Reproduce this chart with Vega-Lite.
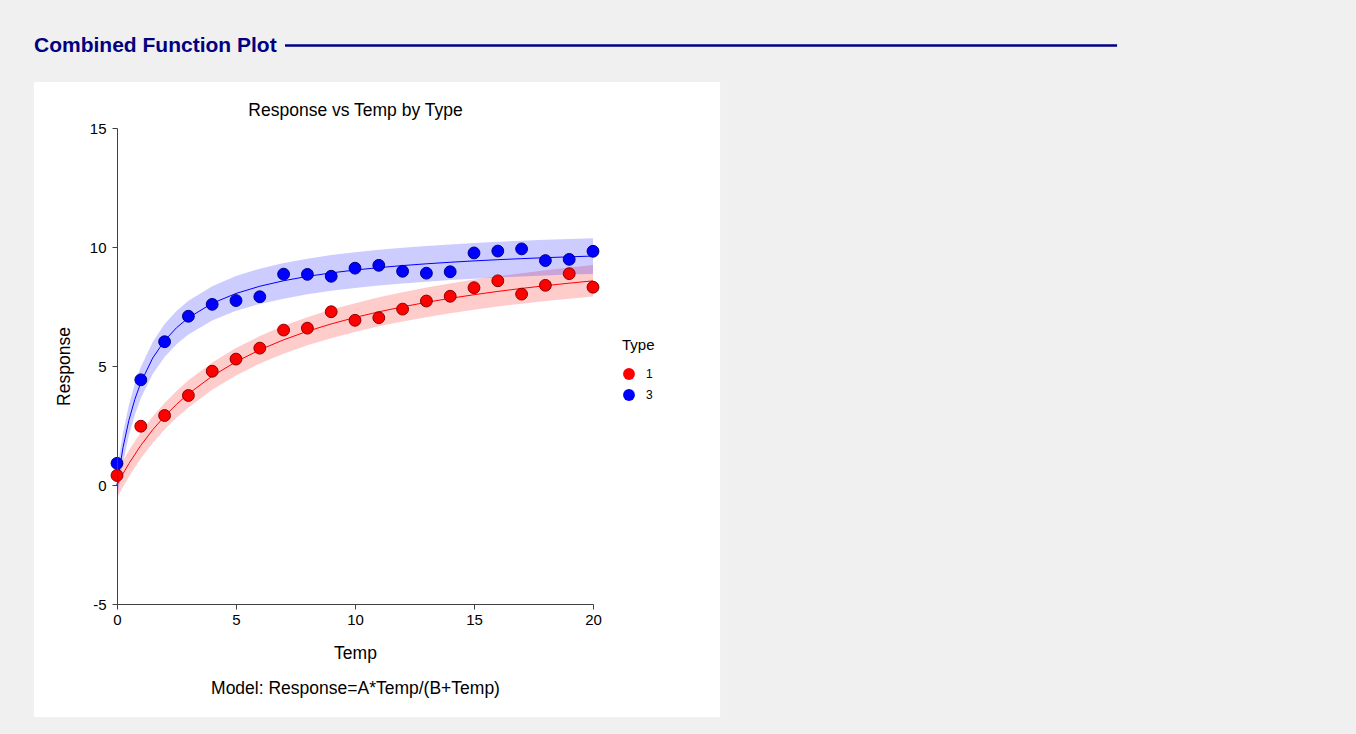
{
  "$schema": "https://vega.github.io/schema/vega-lite/v6.json",
  "width": 476,
  "height": 476,
  "autosize": {"type": "none"},
  "padding": {"left": 117, "top": 128, "right": 763, "bottom": 130},
  "background": "#f0f0f0",
  "title": {"text": "Combined Function Plot", "anchor": "start", "frame": "group", "dx": -83, "offset": -12, "fontSize": 21, "fontWeight": "bold", "color": "#000080", "font": "Liberation Sans", "zindex": 2},
  "resolve": {"axis": {"y": "independent"}, "legend": {"color": "independent"}},
  "config": {
    "view": {"stroke": null},
    "font": "Liberation Sans",
    "axis": {"domainColor": "#404040", "tickColor": "#404040", "labelColor": "#000000", "titleColor": "#000000", "labelFontSize": 15, "titleFontSize": 17.5, "titleFontWeight": "normal", "tickSize": 5, "grid": false, "labelFont": "Liberation Sans", "titleFont": "Liberation Sans", "labelFlush": false}
  },
  "datasets": {
    "pts": [
      {"Type": "1", "Temp": 0, "Response": 0.40}, {"Type": "1", "Temp": 1, "Response": 2.47}, {"Type": "1", "Temp": 2, "Response": 2.92}, {"Type": "1", "Temp": 3, "Response": 3.76}, {"Type": "1", "Temp": 4, "Response": 4.78}, {"Type": "1", "Temp": 5, "Response": 5.29}, {"Type": "1", "Temp": 6, "Response": 5.75}, {"Type": "1", "Temp": 7, "Response": 6.51}, {"Type": "1", "Temp": 8, "Response": 6.59}, {"Type": "1", "Temp": 9, "Response": 7.28}, {"Type": "1", "Temp": 10, "Response": 6.92}, {"Type": "1", "Temp": 11, "Response": 7.03}, {"Type": "1", "Temp": 12, "Response": 7.39}, {"Type": "1", "Temp": 13, "Response": 7.73}, {"Type": "1", "Temp": 14, "Response": 7.93}, {"Type": "1", "Temp": 15, "Response": 8.29}, {"Type": "1", "Temp": 16, "Response": 8.58}, {"Type": "1", "Temp": 17, "Response": 8.02}, {"Type": "1", "Temp": 18, "Response": 8.39}, {"Type": "1", "Temp": 19, "Response": 8.88}, {"Type": "1", "Temp": 20, "Response": 8.31},
      {"Type": "3", "Temp": 0, "Response": 0.91}, {"Type": "3", "Temp": 1, "Response": 4.42}, {"Type": "3", "Temp": 2, "Response": 6.02}, {"Type": "3", "Temp": 3, "Response": 7.09}, {"Type": "3", "Temp": 4, "Response": 7.59}, {"Type": "3", "Temp": 5, "Response": 7.75}, {"Type": "3", "Temp": 6, "Response": 7.91}, {"Type": "3", "Temp": 7, "Response": 8.86}, {"Type": "3", "Temp": 8, "Response": 8.85}, {"Type": "3", "Temp": 9, "Response": 8.77}, {"Type": "3", "Temp": 10, "Response": 9.11}, {"Type": "3", "Temp": 11, "Response": 9.23}, {"Type": "3", "Temp": 12, "Response": 8.98}, {"Type": "3", "Temp": 13, "Response": 8.90}, {"Type": "3", "Temp": 14, "Response": 8.96}, {"Type": "3", "Temp": 15, "Response": 9.75}, {"Type": "3", "Temp": 16, "Response": 9.83}, {"Type": "3", "Temp": 17, "Response": 9.92}, {"Type": "3", "Temp": 18, "Response": 9.43}, {"Type": "3", "Temp": 19, "Response": 9.48}, {"Type": "3", "Temp": 20, "Response": 9.82}
    ],
    "curve": [
      {"Type": "1", "Temp": 0, "Fit": 0, "Lo": -0.55, "Hi": 0.55},
      {"Type": "1", "Temp": 0.25, "Fit": 0.469, "Lo": -0.08, "Hi": 1.02},
      {"Type": "1", "Temp": 0.5, "Fit": 0.900, "Lo": 0.35, "Hi": 1.45},
      {"Type": "1", "Temp": 1, "Fit": 1.664, "Lo": 1.11, "Hi": 2.22},
      {"Type": "1", "Temp": 1.5, "Fit": 2.320, "Lo": 1.76, "Hi": 2.88},
      {"Type": "1", "Temp": 2, "Fit": 2.889, "Lo": 2.33, "Hi": 3.45},
      {"Type": "1", "Temp": 2.5, "Fit": 3.389, "Lo": 2.83, "Hi": 3.95},
      {"Type": "1", "Temp": 3, "Fit": 3.830, "Lo": 3.26, "Hi": 4.40},
      {"Type": "1", "Temp": 4, "Fit": 4.575, "Lo": 4.00, "Hi": 5.15},
      {"Type": "1", "Temp": 5, "Fit": 5.179, "Lo": 4.60, "Hi": 5.76},
      {"Type": "1", "Temp": 6, "Fit": 5.679, "Lo": 5.10, "Hi": 6.26},
      {"Type": "1", "Temp": 7, "Fit": 6.100, "Lo": 5.51, "Hi": 6.69},
      {"Type": "1", "Temp": 8, "Fit": 6.459, "Lo": 5.87, "Hi": 7.05},
      {"Type": "1", "Temp": 9, "Fit": 6.768, "Lo": 6.17, "Hi": 7.37},
      {"Type": "1", "Temp": 10, "Fit": 7.038, "Lo": 6.43, "Hi": 7.64},
      {"Type": "1", "Temp": 11, "Fit": 7.276, "Lo": 6.67, "Hi": 7.89},
      {"Type": "1", "Temp": 12, "Fit": 7.486, "Lo": 6.87, "Hi": 8.10},
      {"Type": "1", "Temp": 13, "Fit": 7.674, "Lo": 7.05, "Hi": 8.30},
      {"Type": "1", "Temp": 14, "Fit": 7.843, "Lo": 7.22, "Hi": 8.47},
      {"Type": "1", "Temp": 15, "Fit": 7.995, "Lo": 7.36, "Hi": 8.63},
      {"Type": "1", "Temp": 16, "Fit": 8.133, "Lo": 7.50, "Hi": 8.77},
      {"Type": "1", "Temp": 17, "Fit": 8.259, "Lo": 7.62, "Hi": 8.90},
      {"Type": "1", "Temp": 18, "Fit": 8.375, "Lo": 7.73, "Hi": 9.02},
      {"Type": "1", "Temp": 19, "Fit": 8.480, "Lo": 7.83, "Hi": 9.14},
      {"Type": "1", "Temp": 20, "Fit": 8.578, "Lo": 7.92, "Hi": 9.24},
      {"Type": "3", "Temp": 0, "Fit": 0, "Lo": -0.6, "Hi": 0.6},
      {"Type": "3", "Temp": 0.25, "Fit": 1.566, "Lo": 0.95, "Hi": 2.19},
      {"Type": "3", "Temp": 0.5, "Fit": 2.718, "Lo": 2.08, "Hi": 3.36},
      {"Type": "3", "Temp": 0.75, "Fit": 3.601, "Lo": 2.95, "Hi": 4.25},
      {"Type": "3", "Temp": 1, "Fit": 4.300, "Lo": 3.64, "Hi": 4.96},
      {"Type": "3", "Temp": 1.5, "Fit": 5.335, "Lo": 4.66, "Hi": 6.01},
      {"Type": "3", "Temp": 2, "Fit": 6.065, "Lo": 5.38, "Hi": 6.76},
      {"Type": "3", "Temp": 2.5, "Fit": 6.608, "Lo": 5.91, "Hi": 7.31},
      {"Type": "3", "Temp": 3, "Fit": 7.027, "Lo": 6.32, "Hi": 7.74},
      {"Type": "3", "Temp": 4, "Fit": 7.632, "Lo": 6.91, "Hi": 8.35},
      {"Type": "3", "Temp": 5, "Fit": 8.048, "Lo": 7.32, "Hi": 8.78},
      {"Type": "3", "Temp": 6, "Fit": 8.351, "Lo": 7.61, "Hi": 9.09},
      {"Type": "3", "Temp": 7, "Fit": 8.582, "Lo": 7.83, "Hi": 9.33},
      {"Type": "3", "Temp": 8, "Fit": 8.764, "Lo": 8.01, "Hi": 9.51},
      {"Type": "3", "Temp": 9, "Fit": 8.911, "Lo": 8.16, "Hi": 9.66},
      {"Type": "3", "Temp": 10, "Fit": 9.032, "Lo": 8.28, "Hi": 9.78},
      {"Type": "3", "Temp": 11, "Fit": 9.133, "Lo": 8.38, "Hi": 9.88},
      {"Type": "3", "Temp": 12, "Fit": 9.220, "Lo": 8.47, "Hi": 9.97},
      {"Type": "3", "Temp": 13, "Fit": 9.294, "Lo": 8.54, "Hi": 10.04},
      {"Type": "3", "Temp": 14, "Fit": 9.359, "Lo": 8.61, "Hi": 10.11},
      {"Type": "3", "Temp": 15, "Fit": 9.416, "Lo": 8.67, "Hi": 10.17},
      {"Type": "3", "Temp": 16, "Fit": 9.466, "Lo": 8.72, "Hi": 10.22},
      {"Type": "3", "Temp": 17, "Fit": 9.511, "Lo": 8.76, "Hi": 10.26},
      {"Type": "3", "Temp": 18, "Fit": 9.551, "Lo": 8.80, "Hi": 10.30},
      {"Type": "3", "Temp": 19, "Fit": 9.587, "Lo": 8.84, "Hi": 10.34},
      {"Type": "3", "Temp": 20, "Fit": 9.620, "Lo": 8.87, "Hi": 10.37}
    ]
  },
  "layer": [
    {
      "data": {"values": [{}]},
      "mark": {"type": "rect", "color": "#ffffff", "clip": false},
      "encoding": {
        "x": {"datum": -3.49, "type": "quantitative", "scale": {"domain": [0, 20], "nice": false, "zero": false}, "axis": null},
        "x2": {"datum": 25.34},
        "y": {"datum": -9.75, "type": "quantitative", "scale": {"domain": [-5, 15], "nice": false, "zero": false}, "axis": null},
        "y2": {"datum": 16.93}
      }
    },
    {
      "data": {"values": [{}]},
      "mark": {"type": "rule", "color": "#000080", "strokeWidth": 2.5, "clip": false},
      "encoding": {
        "x": {"datum": 7.06, "type": "quantitative", "axis": null},
        "x2": {"datum": 42.02},
        "y": {"datum": 18.47, "type": "quantitative", "axis": null}
      }
    },
    {
      "data": {"name": "curve"},
      "mark": {"type": "area", "opacity": 0.2},
      "encoding": {
        "x": {"field": "Temp", "type": "quantitative", "axis": {"orient": "top", "title": "Response vs Temp by Type", "labels": false, "ticks": false, "domain": false, "titlePadding": 9, "zindex": 3}},
        "y": {"field": "Lo", "type": "quantitative", "axis": null},
        "y2": {"field": "Hi"},
        "color": {"field": "Type", "type": "nominal", "scale": {"domain": ["1", "3"], "range": ["#ff0000", "#0000ff"]}, "legend": null}
      }
    },
    {
      "data": {"name": "curve"},
      "mark": {"type": "line", "strokeWidth": 1},
      "encoding": {
        "x": {"field": "Temp", "type": "quantitative", "axis": null},
        "y": {"field": "Fit", "type": "quantitative", "axis": null},
        "color": {"field": "Type", "type": "nominal", "legend": null}
      }
    },
    {
      "data": {"name": "pts"},
      "mark": {"type": "point", "shape": "circle", "filled": true, "size": 140, "opacity": 1, "strokeWidth": 1},
      "encoding": {
        "x": {"field": "Temp", "type": "quantitative", "axis": {"orient": "bottom", "values": [0, 5, 10, 15, 20], "title": ["Temp", "Model: Response=A*Temp/(B+Temp)"], "titleLineHeight": 35, "labelPadding": 3, "titlePadding": 17, "zindex": 3}},
        "y": {"field": "Response", "type": "quantitative", "axis": {"orient": "left", "values": [-5, 0, 5, 10, 15], "labelExpr": "'' + datum.value", "title": "Response", "labelPadding": 6, "titlePadding": 16, "zindex": 3}},
        "color": {"field": "Type", "type": "nominal", "legend": {"title": "Type", "orient": "none", "legendX": 505, "legendY": 210, "zindex": 3, "symbolType": "circle", "symbolSize": 140, "titleFontSize": 15, "titleFontWeight": "normal", "labelFontSize": 12, "rowPadding": 8, "titlePadding": 14, "labelOffset": 10, "titleColor": "#000000", "labelColor": "#000000"}},
        "stroke": {"field": "Type", "type": "nominal", "scale": {"domain": ["1", "3"], "range": ["#8b0000", "#00008b"]}, "legend": null}
      }
    }
  ]
}
